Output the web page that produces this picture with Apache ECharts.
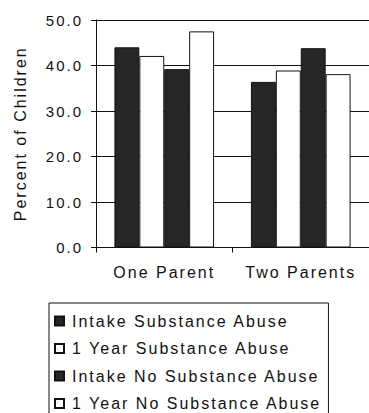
<!DOCTYPE html>
<html>
<head>
<meta charset="utf-8">
<script src="https://cdn.jsdelivr.net/npm/echarts@6/dist/echarts.min.js"></script>
<style>
  html, body { margin: 0; padding: 0; background: #fff; }
  #chart { width: 369px; height: 413px; }
  /* wide tracking of the typewriter-style labels */
  #chart text { letter-spacing: 2px; }
</style>
</head>
<body>
<div id="chart"></div>
<script>
// Household groups on the x axis
const categories = ['One Parent', 'Two Parents'];
// Percent of children in each group
const intakeSubstance = [44.0, 36.4];
const yearSubstance = [42.1, 38.9];
const intakeNoSubstance = [39.2, 43.8];
const yearNoSubstance = [47.5, 38.1];
const seriesNames = [
  'Intake Substance Abuse',
  '1 Year Substance Abuse',
  'Intake No Substance Abuse',
  '1 Year No Substance Abuse'
];
const yTicks = { min: 0, max: 50, interval: 10 };

const FONT = 'Liberation Sans, Arial, sans-serif';
const INK = '#111111';
const DARK = '#262626';

function barSeries(name, data, fill) {
  return {
    name: name,
    type: 'bar',
    data: data,
    barGap: '0%',
    barCategoryGap: '27%',
    itemStyle: { color: fill, borderColor: INK, borderWidth: 1 }
  };
}

const chart = echarts.init(document.getElementById('chart'), null, { renderer: 'svg' });
chart.setOption({
  backgroundColor: '#fff',
  animation: false,
  grid: { left: 96, top: 20, width: 281, bottom: 165.5, containLabel: false },
  legend: {
    orient: 'vertical',
    left: 49,
    top: 303,
    height: 200,
    padding: [10, 56, 30, 5],
    itemWidth: 9,
    itemHeight: 9,
    itemGap: 11.5,
    borderColor: INK,
    borderWidth: 1,
    textStyle: { fontFamily: FONT, fontSize: 16, color: INK, lineHeight: 16, padding: [0, 0, 0, 3] },
    data: seriesNames.map(function (n) { return { name: n, icon: 'rect' }; })
  },
  xAxis: {
    type: 'category',
    data: categories,
    axisLine: { lineStyle: { color: INK, width: 1 } },
    axisTick: { show: true, length: 5, lineStyle: { color: INK } },
    axisLabel: { fontFamily: FONT, fontSize: 16, color: INK, margin: 17 }
  },
  yAxis: {
    type: 'value',
    min: yTicks.min,
    max: yTicks.max,
    interval: yTicks.interval,
    name: 'Percent of Children',
    nameLocation: 'middle',
    nameGap: 68,
    nameTextStyle: { fontFamily: FONT, fontSize: 16, color: INK },
    axisLine: { show: true, lineStyle: { color: INK, width: 1 } },
    axisTick: { show: true, length: 5, lineStyle: { color: INK } },
    splitLine: { show: true, lineStyle: { color: INK, width: 1 } },
    axisLabel: {
      fontFamily: FONT, fontSize: 15, color: INK, margin: 13,
      formatter: function (v) { return v.toFixed(1); }
    }
  },
  series: [
    barSeries(seriesNames[0], intakeSubstance, DARK),
    barSeries(seriesNames[1], yearSubstance, '#ffffff'),
    barSeries(seriesNames[2], intakeNoSubstance, DARK),
    barSeries(seriesNames[3], yearNoSubstance, '#ffffff')
  ]
});
</script>
</body>
</html>
